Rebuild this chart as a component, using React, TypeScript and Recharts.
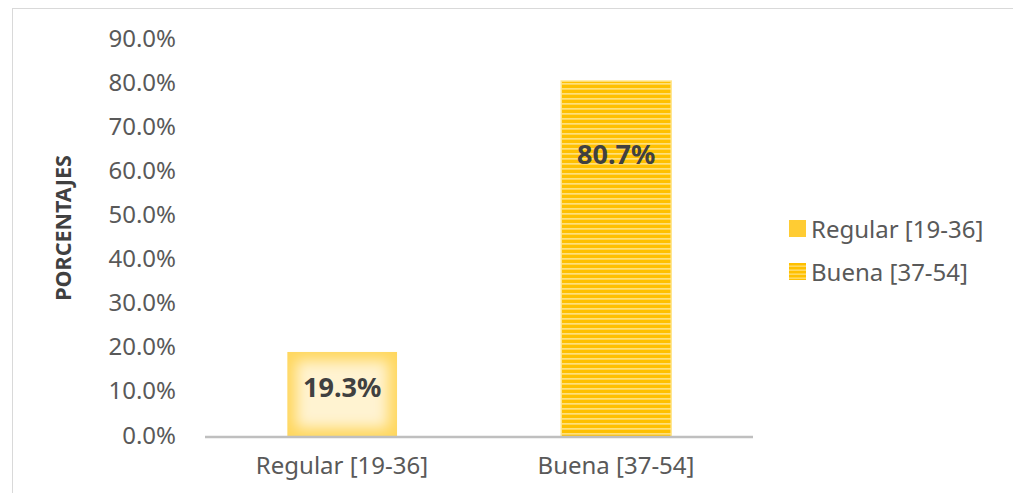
import { Bar, BarChart, Cell, LabelList, XAxis, YAxis } from "recharts";

const categories = ["Regular [19-36]", "Buena [37-54]"];
const percentages = [19.3, 80.7];
const yTicks = [0, 10, 20, 30, 40, 50, 60, 70, 80, 90];

const data = categories.map((name, i) => ({ name, value: percentages[i] }));

const FONT = "'Noto Sans', 'Open Sans', sans-serif";
const GRAY = "#595959";

function GlowBar(props: any) {
  const { x, y, width, height, index } = props;
  if (!height || height <= 0) return null;
  const id = `clip-bar-${index}`;
  if (index === 1) {
    return (
      <g>
        <rect x={x} y={y} width={width} height={height} fill="url(#stripes)" />
        <rect x={x} y={y} width={width} height={height} fill="none" stroke="#ffe58f" strokeWidth={1.5} />
      </g>
    );
  }
  return (
    <g>
      <clipPath id={id}>
        <rect x={x} y={y} width={width} height={height} />
      </clipPath>
      <g clipPath={`url(#${id})`}>
        <rect x={x} y={y} width={width} height={height} fill="#ffd75e" />
        <rect
          x={x + 9}
          y={y + 9}
          width={width - 18}
          height={height - 18}
          fill="#fff3d1"
          filter="url(#soft)"
        />
      </g>
    </g>
  );
}

function InsideLabel(props: any) {
  const { x, y, width, height, value } = props;
  const cy = y + Math.min(height * 0.41, 72);
  return (
    <text
      x={x + width / 2}
      y={cy}
      textAnchor="middle"
      dominantBaseline="central"
      fontFamily={FONT}
      fontWeight={700}
      fontSize={27}
      fill="#404040"
    >
      {`${Number(value).toFixed(1)}%`}
    </text>
  );
}

function AxisTitle() {
  return (
    <text
      x={62}
      y={228}
      transform="rotate(-90 62 228)"
      textAnchor="middle"
      dominantBaseline="central"
      fontFamily={FONT}
      fontWeight={700}
      fontSize={21.5}
      fill="#404040"
    >
      PORCENTAJES
    </text>
  );
}

function LegendIcon({ striped }: { striped: boolean }) {
  return (
    <svg width={17} height={17} style={{ marginRight: 5 }}>
      <rect width={17} height={17} fill={striped ? "url(#stripesLegend)" : "#ffcc33"} />
      {striped && (
        <defs>
          <pattern id="stripesLegend" width={4} height={4} patternUnits="userSpaceOnUse">
            <rect width={4} height={4} fill="#ffc000" />
            <rect y={2.5} width={4} height={1.3} fill="#ffe07a" />
          </pattern>
        </defs>
      )}
    </svg>
  );
}

export default function App() {
  return (
    <div
      style={{
        position: "fixed",
        left: 0,
        top: 0,
        width: 1013,
        height: 493,
        overflow: "hidden",
        background: "#fff",
      }}
    >
      <div
        style={{
          position: "absolute",
          left: 12,
          top: 8,
          width: 1100,
          height: 600,
          border: "1.5px solid #d9d9d9",
        }}
      />
      <div style={{ position: "absolute", left: 0, top: 0 }}>
        <BarChart
          width={1013}
          height={493}
          data={data}
          margin={{ top: 40, right: 260, left: 0, bottom: 26 }}
          barCategoryGap="30%"
        >
          <defs>
            <pattern id="stripes" width={6} height={5} patternUnits="userSpaceOnUse">
              <rect width={6} height={5} fill="#ffc000" />
              <rect y={3} width={6} height={1.7} fill="#ffe07a" />
            </pattern>
            <filter id="soft" x="-50%" y="-50%" width="200%" height="200%">
              <feGaussianBlur stdDeviation={7} />
            </filter>
          </defs>
          <XAxis
            dataKey="name"
            height={30}
            tickLine={false}
            axisLine={{ stroke: "#bfbfbf", strokeWidth: 2.5 }}
            tick={{ fill: GRAY, fontSize: 24, fontFamily: FONT }}
            tickMargin={14}
          />
          <YAxis
            type="number"
            domain={[0, 90]}
            ticks={yTicks}
            interval={0}
            width={205}
            axisLine={false}
            tickLine={false}
            tickSize={0}
            tickMargin={29}
            tickFormatter={(v: number) => `${v.toFixed(1)}%`}
            tick={{ fill: GRAY, fontSize: 24, fontFamily: FONT, dy: -2 }}
            label={<AxisTitle />}
          />
          <Bar dataKey="value" shape={<GlowBar />} isAnimationActive={false}>
            {data.map((d) => (
              <Cell key={d.name} />
            ))}
            <LabelList dataKey="value" content={<InsideLabel />} />
          </Bar>
        </BarChart>
      </div>
      <div
        style={{
          position: "absolute",
          left: 789,
          top: 212,
          fontFamily: FONT,
          fontSize: 24,
          color: GRAY,
        }}
      >
        {categories.map((c, i) => (
          <div
            key={c}
            style={{ display: "flex", alignItems: "center", height: 32, marginBottom: 11 }}
          >
            <LegendIcon striped={i === 1} />
            <span>{c}</span>
          </div>
        ))}
      </div>
    </div>
  );
}
